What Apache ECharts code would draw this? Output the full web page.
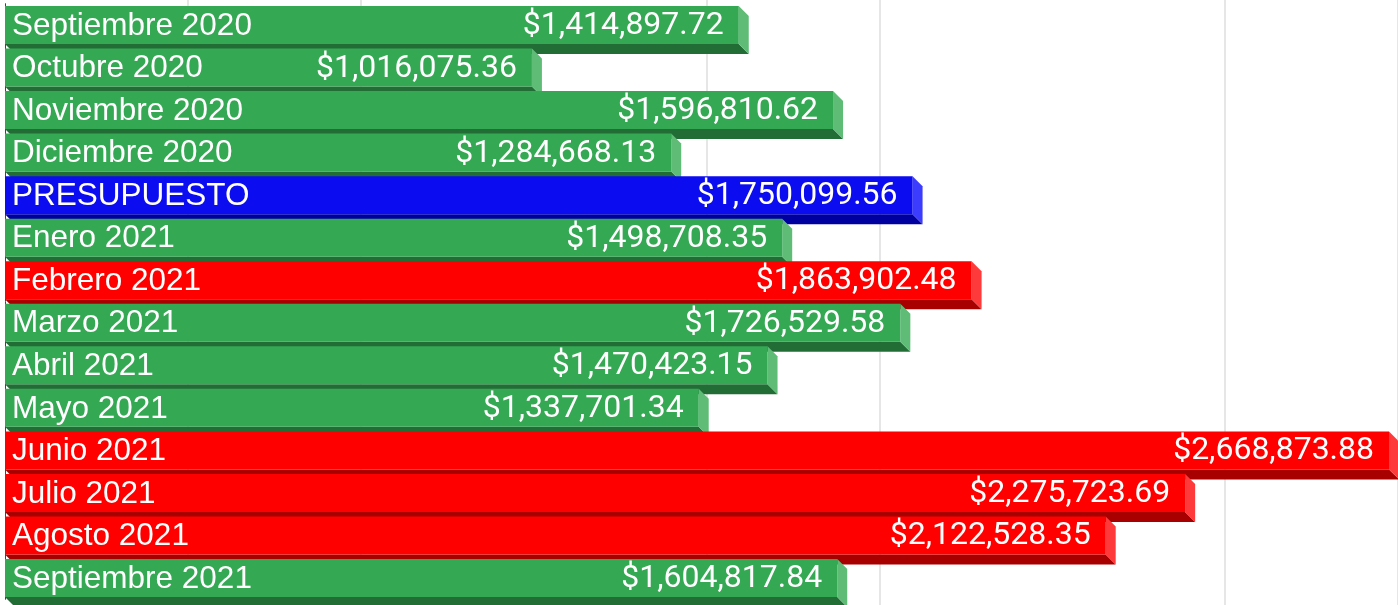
<!DOCTYPE html>
<html>
  <head>
    <meta charset="utf-8" />
    <title></title>
    <style>
      body {
        margin: 0;
        padding: 0;
        background: #fff;
      }
      #chart {
        width: 1398px;
        height: 605px;
      }
    </style>
    <script src="https://cdn.jsdelivr.net/npm/echarts@6/dist/echarts.min.js"></script>
  </head>

  <body>
    <div id="chart"></div>
  </body>
  <script>
    // datos
    const categories = [
      "Septiembre 2020",
      "Octubre 2020",
      "Noviembre 2020",
      "Diciembre 2020",
      "PRESUPUESTO",
      "Enero 2021",
      "Febrero 2021",
      "Marzo 2021",
      "Abril 2021",
      "Mayo 2021",
      "Junio 2021",
      "Julio 2021",
      "Agosto 2021",
      "Septiembre 2021",
    ];
    const values = [
      1414897.72, 1016075.36, 1596810.62, 1284668.13, 1750099.56,
      1498708.35, 1863902.48, 1726529.58, 1470423.15, 1337701.34,
      2668873.88, 2275723.69, 2122528.35, 1604817.84,
    ];
    const budgetName = "PRESUPUESTO";

    const budget = values[categories.indexOf(budgetName)];

    const palette = {
      green: { front: "#34a853", bottom: "#226d36", side: "#5fbc76" },
      red: { front: "#ff0000", bottom: "#a80000", side: "#ff3a3a" },
      blue: { front: "#0c0cf0", bottom: "#0000a0", side: "#3c3cff" },
    };

    const depth = 10;
    const step = 1000000 / 3; // separacion de lineas
    const stepPx = 172.86;
    const mainW = 1393;
    const mainMax = (mainW / stepPx) * step;

    function money(v) {
      return (
        "$" +
        v.toLocaleString("en-US", {
          minimumFractionDigits: 2,
          maximumFractionDigits: 2,
        })
      );
    }

    function renderBar(params, api) {
      const v = api.value(0);
      const idx = api.value(1);
      const start = api.coord([0, idx]);
      const end = api.coord([v, idx]);
      const band = api.size([0, 1])[1];
      const h = band * 0.893;
      const x0 = start[0];
      const x1 = end[0];
      const top = end[1] - h / 2;
      const bot = top + h;
      const name = categories[idx];
      let c = palette.green;
      if (name === budgetName) c = palette.blue;
      else if (v > budget) c = palette.red;

      return {
        type: "group",
        children: [
          {
            type: "polygon",
            shape: {
              points: [
                [x0, bot],
                [x1, bot],
                [x1 + depth, bot + depth],
                [x0 + depth, bot + depth],
              ],
            },
            style: { fill: c.bottom },
          },
          {
            type: "polygon",
            shape: {
              points: [
                [x1, top],
                [x1 + depth, top + depth],
                [x1 + depth, bot + depth],
                [x1, bot],
              ],
            },
            style: { fill: c.side },
          },
          {
            type: "rect",
            shape: { x: x0, y: top, width: x1 - x0, height: h },
            style: { fill: c.front },
          },
          {
            type: "text",
            style: {
              text: name,
              x: x0 + 7,
              y: top + h / 2 + 1,
              fill: "#fff",
              font: '31.5px "Liberation Sans"',
              align: "left",
              verticalAlign: "middle",
            },
          },
          {
            type: "text",
            style: {
              text: money(v),
              x: x1 - 15,
              y: top + h / 2 + 1,
              fill: "#fff",
              font: "32px Roboto",
              align: "right",
              verticalAlign: "middle",
            },
          },
        ],
      };
    }

    const chart = echarts.init(document.getElementById("chart"));
    chart.setOption({
      animation: false,
      grid: [
        { left: 5, right: 0, top: 3.7, bottom: 5.7 },
        { left: 5 + depth, right: 0, top: 0, bottom: 0 },
      ],
      xAxis: [
        {
          type: "value",
          gridIndex: 0,
          min: 0,
          max: mainMax,
          axisLine: { show: false },
          axisTick: { show: false },
          axisLabel: { show: false },
          splitLine: { show: false },
        },
        {
          type: "value",
          gridIndex: 1,
          min: 0,
          max: 8 * step,
          interval: step,
          axisLine: { show: false },
          axisTick: { show: false },
          axisLabel: { show: false },
          splitLine: {
            show: true,
            showMinLine: true,
            showMaxLine: true,
            lineStyle: {
              color: ["rgba(0,0,0,0)", "#e6e6e6", "#e6e6e6"],
              width: 2,
            },
          },
        },
      ],
      yAxis: [
        {
          type: "category",
          gridIndex: 0,
          data: categories,
          inverse: true,
          offset: 4,
          axisLine: { show: true, lineStyle: { color: "#444", width: 1 } },
          axisTick: { show: false },
          axisLabel: { show: false },
        },
        {
          type: "category",
          gridIndex: 1,
          data: categories,
          show: false,
        },
      ],
      series: [
        {
          type: "custom",
          xAxisIndex: 0,
          yAxisIndex: 0,
          renderItem: renderBar,
          encode: { x: 0, y: 1 },
          data: values.map((v, i) => [v, i]),
          z: 3,
        },
      ],
    });
  </script>
</html>
